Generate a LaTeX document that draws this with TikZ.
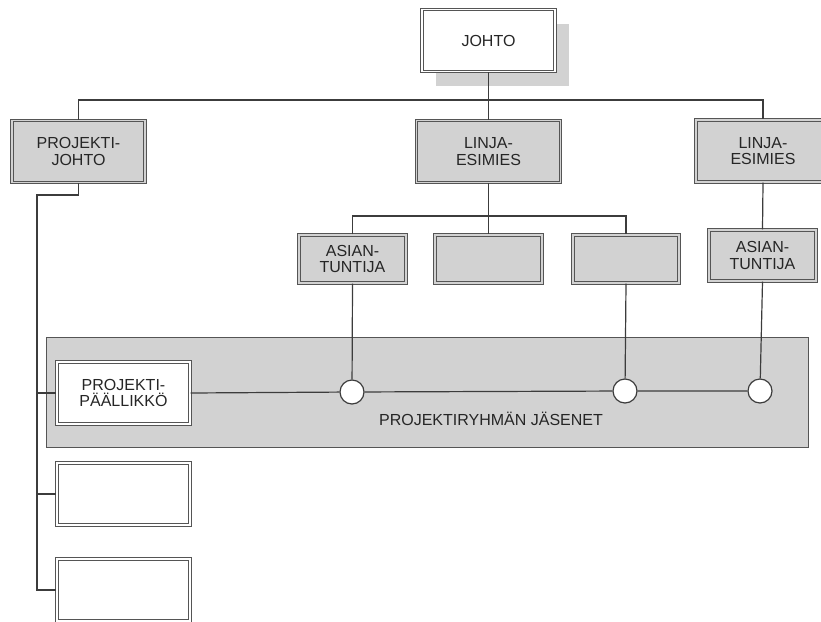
\documentclass[tikz,border=0pt]{standalone}
\usepackage{fontspec}
\setmainfont{Liberation Sans}
\usetikzlibrary{positioning,shadows}
\definecolor{boxfill}{HTML}{D2D2D2}
\definecolor{boxline}{HTML}{555555}
\definecolor{wire}{HTML}{3C3C3C}
\tikzset{
    unit/.style={draw=boxline, line width=1.1pt, double distance=1.3pt,
        minimum width=133pt, minimum height=62pt, align=center,
        text=black!85, font=\fontsize{16}{16.7}\selectfont},
    grayunit/.style={unit, fill=boxfill, double=boxfill},
    whiteunit/.style={unit, fill=white, double=white},
    member/.style={circle, draw=wire, line width=1.2pt, fill=white,
        minimum size=24pt, inner sep=0pt},
    link/.style={draw=wire, line width=1.2pt}
}

\begin{document}
\begin{tikzpicture}[x=1pt,y=-1pt]
\useasboundingbox (0,0) rectangle (821,621);

\node[whiteunit, drop shadow={shadow xshift=14pt, shadow yshift=-14pt,
    fill=boxfill, opacity=1}] (johto) at (488.5,40.5) {JOHTO};

\node[grayunit] (pjohto) at (78.5,151.5) {PROJEKTI-\\JOHTO};
\node[grayunit, minimum width=144pt] (linja1) at (488.5,151.5) {LINJA-\\ESIMIES};
\node[grayunit, minimum width=134pt] (linja2) at (763,151) {LINJA-\\ESIMIES};

\node[grayunit, minimum width=107pt, minimum height=48pt] (asian1) at (352.5,259) {ASIAN-\\TUNTIJA};
\node[grayunit, minimum width=107pt, minimum height=48pt] (empty1) at (488.5,259) {};
\node[grayunit, minimum width=106pt, minimum height=48pt] (empty2) at (626,259) {};
\node[grayunit, minimum width=107pt, minimum height=51pt] (asian2) at (762.5,255.5) {ASIAN-\\TUNTIJA};

\node[draw=boxline, line width=1pt, fill=boxfill,
    minimum width=762pt, minimum height=110pt] (band) at (427,392) {};
\node[text=black!85, font=\fontsize{16}{16.7}\selectfont] (bandlabel) at (491,419) {PROJEKTIRYHMÄN JÄSENET};

\node[whiteunit] (pp) at (123.5,393) {PROJEKTI-\\PÄÄLLIKKÖ};
\node[whiteunit] (box1) at (123.5,494) {};
\node[whiteunit] (box2) at (123.5,590) {};

\node[member] (m1) at (352,392) {};
\node[member] (m2) at (625,391) {};
\node[member] (m3) at (760,391) {};

\coordinate (top) at (488.5,100);
\coordinate (mid) at (488.5,216);
\coordinate (spine) at (37,195);

\draw[link] (johto) -- (top);
\draw[link] (pjohto.north) |- (top) -| (linja2.north);
\draw[link] (top) -- (linja1.north);
\draw[link] (linja1.south) -- (empty1.north);
\draw[link] (asian1.north) |- (mid) -| (empty2.north);
\draw[link] (linja2.south) -- (asian2.north);

\draw[link] (asian1.south) -- (m1);
\draw[link] (empty2.south) -- (m2);
\draw[link] (asian2.south) -- (m3);
\draw[link] (pp.east) -- (m1) -- (m2) -- (m3);

\draw[link] (pjohto.south) |- (spine) |- (box2.west);
\draw[link] (spine |- pp.west) -- (pp.west);
\draw[link] (spine |- box1.west) -- (box1.west);
\end{tikzpicture}
\end{document}
